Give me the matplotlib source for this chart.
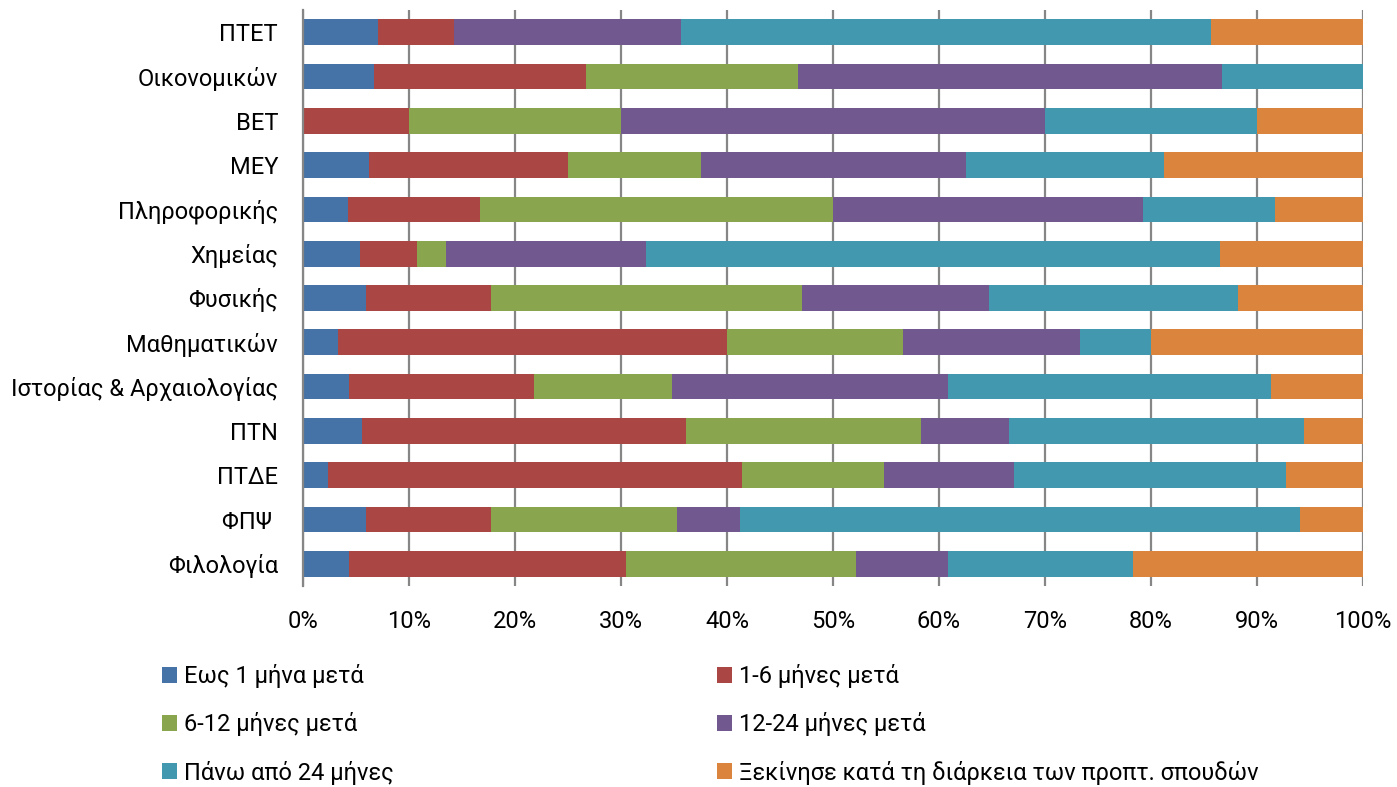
import matplotlib
matplotlib.use("Agg")
import matplotlib.pyplot as plt
import numpy as np
from matplotlib.patches import Patch

plt.rcParams['font.family'] = ['Roboto', 'DejaVu Sans']

categories = ["ΠΤΕΤ", "Οικονομικών", "ΒΕΤ", "ΜΕΥ", "Πληροφορικής", "Χημείας", "Φυσικής",
              "Μαθηματικών", "Ιστορίας & Αρχαιολογίας", "ΠΤΝ", "ΠΤΔΕ", "ΦΠΨ ", "Φιλολογία"]

series_names = ["Εως 1 μήνα μετά", "1-6 μήνες μετά", "6-12 μήνες μετά", "12-24 μήνες μετά",
                "Πάνω από 24 μήνες", "Ξεκίνησε κατά τη διάρκεια των προπτ. σπουδών"]

upto1 = [7.1, 6.7, 0.0, 6.25, 4.2, 5.4, 5.9, 3.3, 4.35, 5.6, 2.4, 5.9, 4.35]
m1_6 = [7.1, 20.0, 10.0, 18.75, 12.5, 5.4, 11.8, 36.7, 17.4, 30.6, 39.0, 11.8, 26.1]
m6_12 = [0.0, 20.0, 20.0, 12.5, 33.3, 2.7, 29.4, 16.7, 13.0, 22.2, 13.4, 17.6, 21.7]
m12_24 = [21.4, 40.0, 40.0, 25.0, 29.2, 18.9, 17.6, 16.7, 26.1, 8.3, 12.2, 5.9, 8.7]
over24 = [50.0, 13.3, 20.0, 18.75, 12.5, 54.1, 23.5, 6.7, 30.4, 27.8, 25.6, 52.9, 17.4]
during = [14.3, 0.0, 10.0, 18.75, 8.3, 13.5, 11.8, 20.0, 8.7, 5.6, 7.3, 5.9, 21.7]

colors = ["#4572A7", "#AA4643", "#89A54E", "#71588F", "#4198AF", "#DB843D"]

data = np.array([upto1, m1_6, m6_12, m12_24, over24, during], dtype=float)
data = data / data.sum(axis=0) * 100.0

FS = 17

fig = plt.figure(figsize=(13.97, 7.87), dpi=100)
ax = fig.add_axes([303/1397, 1 - 586/787, (1363-303)/1397, 576/787])

y = np.arange(len(categories))
left = np.zeros(len(categories))
for i in range(len(series_names)):
    ax.barh(y, data[i], left=left, height=0.58, color=colors[i], edgecolor='none', zorder=3)
    left += data[i]

ax.set_ylim(len(categories) - 0.5, -0.5)
ax.set_xlim(0, 100)
ax.set_xticks(np.arange(0, 101, 10))
ax.set_xticklabels([f"{v}%" for v in range(0, 101, 10)])
ax.set_yticks(y)
ax.set_yticklabels(categories)
ax.xaxis.grid(True, color="#868686", linewidth=1.6, zorder=0)
ax.tick_params(axis='both', length=0, labelsize=FS)
ax.tick_params(axis='x', pad=17)
ax.tick_params(axis='y', pad=18)
for s in ['top', 'right', 'bottom']:
    ax.spines[s].set_visible(False)
ax.spines['left'].set_color("#868686")
ax.spines['left'].set_linewidth(1.6)
ax.spines['left'].set_zorder(4)

col1 = [0, 2, 4]
col2 = [1, 3, 5]
for idxs, x0 in ((col1, 162/1397), (col2, 717/1397)):
    handles = [Patch(facecolor=colors[i], edgecolor='none') for i in idxs]
    labels = [series_names[i] for i in idxs]
    fig.legend(handles, labels, loc='upper left', bbox_to_anchor=(x0, 1 - 664/787),
               frameon=False, fontsize=FS, handlelength=0.65, handleheight=0.65,
               handletextpad=0.3, labelspacing=1.03, borderaxespad=0, borderpad=0)

fig.savefig("out.png", dpi=100)
